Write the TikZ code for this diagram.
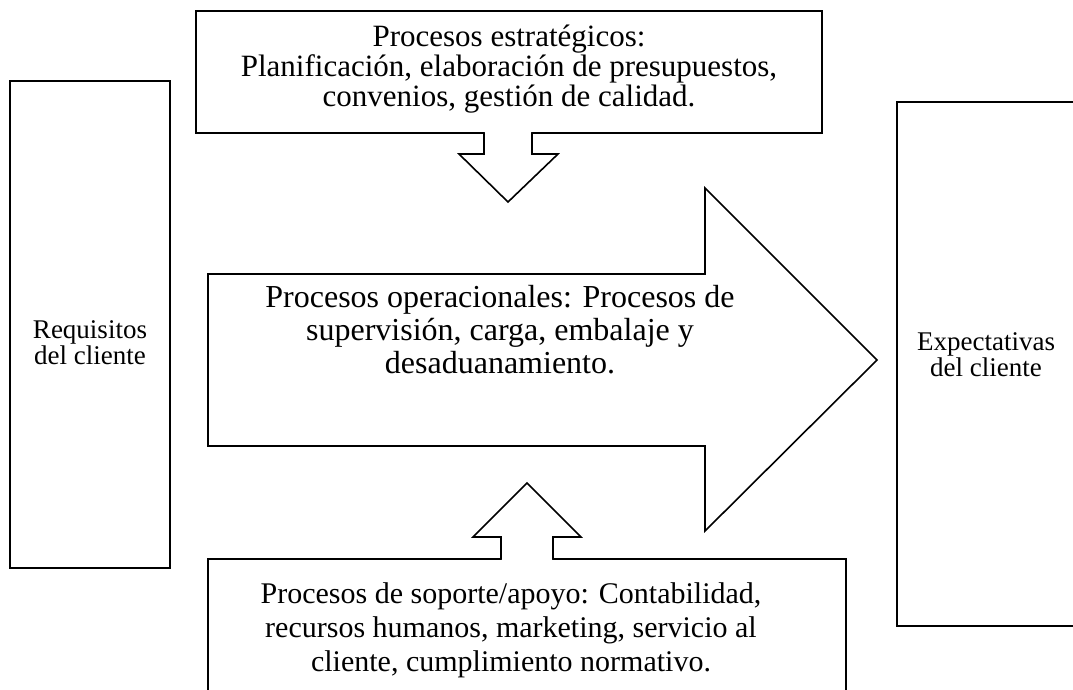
\documentclass[tikz,border=0pt]{standalone}
\usepackage{fontspec}
\setmainfont{Liberation Serif}

\tikzset{
  boxline/.style={line width=1.6pt, line join=miter, fill=white},
  side text/.style={align=center, font=\fontsize{27}{26}\selectfont},
  top text/.style={align=center, font=\fontsize{31}{30}\selectfont},
  main text/.style={align=center, font=\fontsize{32}{33}\selectfont},
  low text/.style={align=center, font=\fontsize{30}{34}\selectfont}
}

\begin{document}
\begin{tikzpicture}[x=1pt,y=-1pt]
\useasboundingbox (0,0) rectangle (1073,690);
\clip (0,0) rectangle (1073,690);

% side boxes
\draw[boxline] (10,81) rectangle (170,568);
\draw[boxline] (897,102) rectangle (1080,626);
\node[side text] (req) at (90,343) {Requisitos\\del cliente};
\node[side text] (expec) at (986,355) {Expectativas\\del cliente};

% strategic box with down arrow
\draw[boxline] (196,11) rectangle (822,133);
\fill[white] (485,130) rectangle (531,136);
\draw[boxline] (484,133) -- (484,154) -- (459,154) -- (508,202) -- (558,154) -- (532,154) -- (532,133);
\node[top text] (estr) at (509,69) {Procesos estratégicos:\\Planificación, elaboración de presupuestos,\\convenios, gestión de calidad.};

% big arrow
\draw[boxline] (208,274) -- (705,274) -- (705,188) -- (877,360) -- (705,531) -- (705,446) -- (208,446) -- cycle;
\node[main text] (oper) at (500,330) {Procesos operacionales: Procesos de\\supervisión, carga, embalaje y\\desaduanamiento.};

% support box with up arrow
\draw[boxline] (208,700) -- (208,559) -- (846,559) -- (846,700);
\fill[white] (502,556) rectangle (552,562);
\draw[boxline] (501,559) -- (501,537) -- (473,537) -- (527,483) -- (581,537) -- (553,537) -- (553,559);
\node[low text] (sop) at (511,630) {Procesos de soporte/apoyo: Contabilidad,\\recursos humanos, marketing, servicio al\\cliente, cumplimiento normativo.};
\end{tikzpicture}
\end{document}
